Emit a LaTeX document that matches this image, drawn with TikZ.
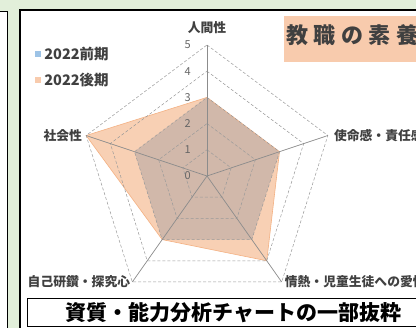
\documentclass[tikz,border=0pt]{standalone}
\usepackage{fontspec}
\setmainfont{Noto Sans CJK JP}
\newfontfamily\spacedfont[LetterSpace=25]{Noto Sans CJK JP}
\usepackage{tikz}
\usetikzlibrary{calc}
\usetikzlibrary{positioning}

\definecolor{bggreen}{HTML}{E2EFDA}
\definecolor{zenki}{HTML}{9DC3E6}
\definecolor{kouki}{HTML}{F4B183}
\definecolor{peach}{HTML}{F8CBAD}
\definecolor{darktext}{HTML}{404040}
\definecolor{gridgray}{HTML}{9A9A9A}
\definecolor{axisgray}{HTML}{8C8C8C}

\begin{document}
\begin{tikzpicture}[x=1pt,y=1pt,
    axislabel/.style={text=darktext,font=\bfseries\fontsize{12.8}{13}\selectfont,inner sep=1pt},
    ticklabel/.style={text=darktext!80,font=\fontsize{11}{12}\selectfont,inner sep=0pt},
    legendtext/.style={text=darktext,font=\bfseries\fontsize{14.5}{15}\selectfont,inner sep=0pt},
    legendkey/.style={minimum size=6pt,inner sep=0pt},
    gridline/.style={gridgray,densely dashed,line width=0.5pt},
    axisline/.style={axisgray,line width=0.7pt}]
  \useasboundingbox (0,0) rectangle (416,328);
  \clip (0,0) rectangle (416,328);
  \fill[bggreen] (0,0) rectangle (416,328);

  % panels
  \draw[line width=0.8pt,fill=white] (-10,-10) rectangle (7.7,316.5);
  \draw[line width=2pt,fill=white] (19.5,-10) rectangle (440,318.3);

  % title
  \fill[peach] (284,266) rectangle (440,312);
  \node[text=darktext,anchor=west,inner sep=0pt,font=\spacedfont\bfseries\fontsize{22}{23}\selectfont] (title) at (286,293) {教職の素養};

  % legend
  \node[legendkey,fill=zenki] (kzenki) at (38,274) {};
  \node[legendtext,right=3pt of kzenki] (lzenki) {2022前期};
  \node[legendkey,fill=peach] (kkouki) at (38,248) {};
  \node[legendtext,right=3pt of kkouki] (lkouki) {2022後期};

  % radar chart
  \begin{scope}[shift={(207,152)},xscale=0.97]
    \def\u{26.2}
    \coordinate (C) at (0,0);
    \foreach \a/\n in {90/jinkan,18/shimei,-54/jonetsu,234/jiko,162/shakai}
      \coordinate (\n) at (\a:5*\u);

    \fill[zenki] (90:3*\u) -- (18:3*\u) -- (-54:3*\u) -- (234:3*\u) -- (162:3*\u) -- cycle;
    \filldraw[fill=kouki,fill opacity=0.6,draw=kouki,line width=0.6pt]
      (90:3*\u) -- (18:3*\u) -- (-54:4*\u) -- (234:3*\u) -- (162:5*\u) -- cycle;

    \foreach \k in {1,...,5}
      \draw[gridline] (90:\k*\u) -- (18:\k*\u) -- (-54:\k*\u) -- (234:\k*\u) -- (162:\k*\u) -- cycle;
    \foreach \n in {jinkan,shimei,jonetsu,jiko,shakai}
      \draw[axisline] (C) -- (\n);

    \foreach \k in {0,...,5}
      \node[ticklabel] (t\k) at (-20,\k*\u) {\k};
  \end{scope}

  \node[axislabel,above=10pt of jinkan] (ljinkan) {人間性};
  \node[axislabel,left=3pt of shakai] (lshakai) {社会性};
  \node[axislabel,right=5pt of shimei] (lshimei) {使命感・責任感};
  \node[axislabel,right=2pt of jonetsu] (ljonetsu) {情熱・児童生徒への愛情};
  \node[axislabel,left=1pt of jiko] (ljiko) {自己研鑽・探究心};

  % caption
  \node[draw,line width=1pt,fill=white,minimum width=413pt,minimum height=28pt,
        font=\bfseries\fontsize{21}{22}\selectfont] (caption) at (233.5,15) {資質・能力分析チャートの一部抜粋};
\end{tikzpicture}
\end{document}
